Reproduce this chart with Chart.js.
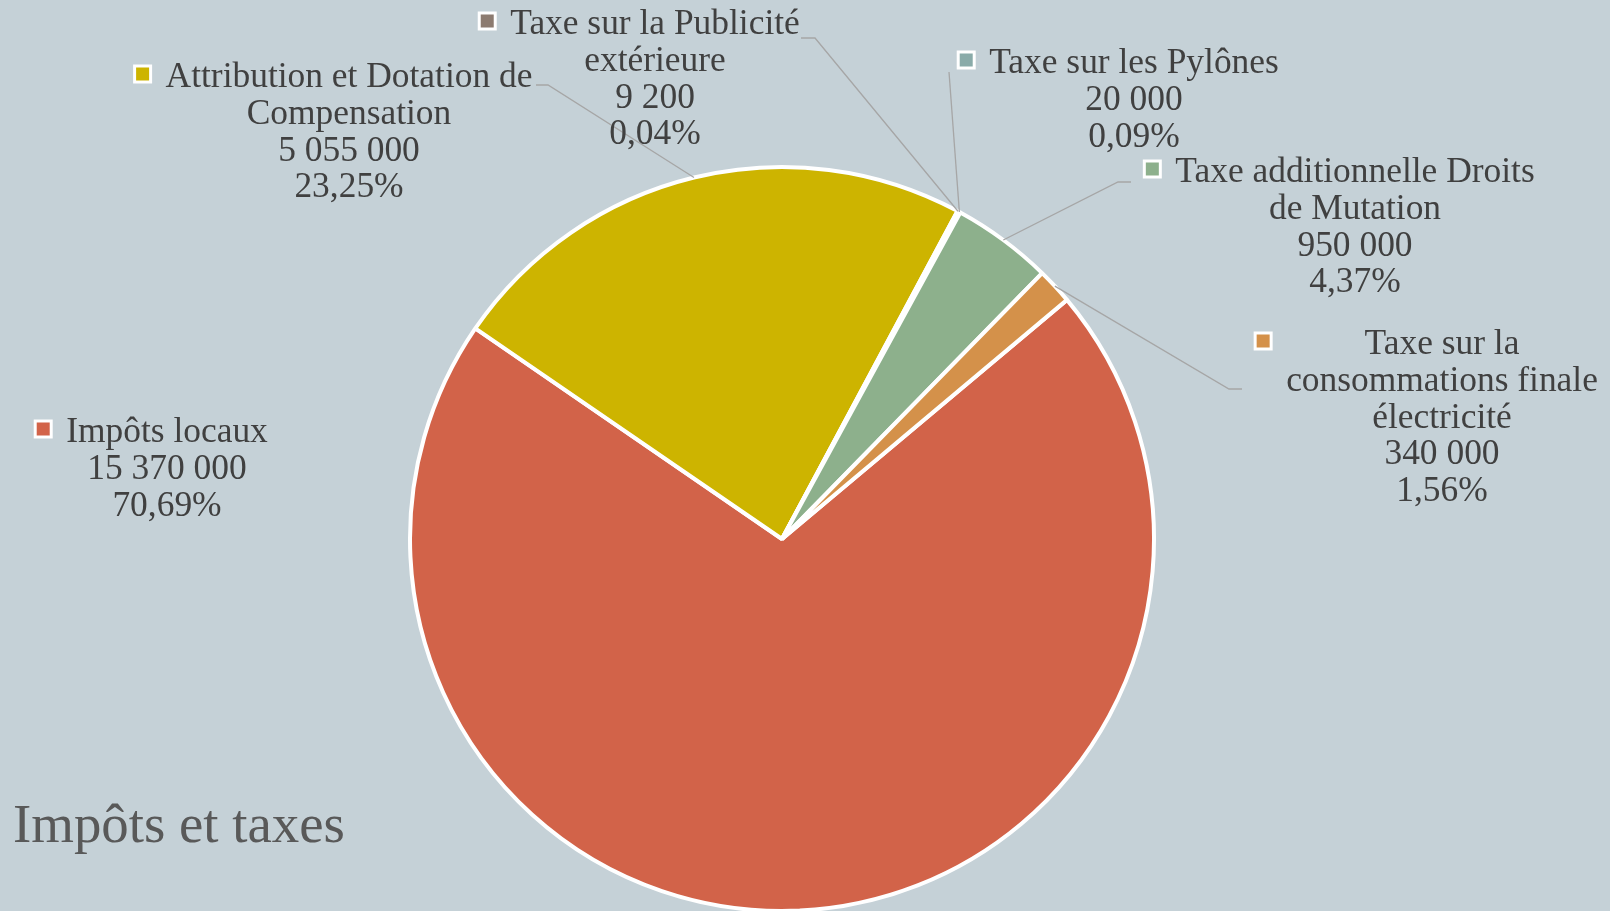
<!DOCTYPE html>
<html>
<head>
<meta charset="utf-8">
<script src="https://cdn.jsdelivr.net/npm/chart.js@4/dist/chart.umd.min.js"></script>
<style>
html,body{margin:0;padding:0;background:#C5D1D7;overflow:hidden}
#wrap{width:1610px;height:911px;position:relative}
canvas{display:block}
</style>
</head>
<body>
<div id="wrap"><canvas id="c" width="1610" height="911"></canvas></div>
<script>
// ---- data ----
const chartTitle = 'Impôts et taxes';
const categories = [
  ['Impôts locaux'],
  ['Attribution et Dotation de', 'Compensation'],
  ['Taxe sur la Publicité', 'extérieure'],
  ['Taxe sur les Pylônes'],
  ['Taxe additionnelle Droits', 'de Mutation'],
  ['Taxe sur la', 'consommations finale', 'électricité']
];
const values = [15370000, 5055000, 9200, 20000, 950000, 340000];

// ---- style / layout ----
const colors = ['#D26349', '#CDB400', '#8C7B70', '#8AABA9', '#8DB08C', '#D4914A'];
const labelCenterX = [167, 349, 655, 1134, 1355, 1442];
const labelTopY = [430, 75, 22, 61, 170, 342];
const leaderElbow = [null, [548, 85], [815, 38], [949, 72], [1118, 182], [1229, 389]];
const leaderEnd = [null, [536, 85], [801, 38], [949, 72], [1131, 182], [1242, 389]];

const FONT = '"Liberation Serif", "Times New Roman", serif';
const total = values.reduce((a, b) => a + b, 0);
const fmtNum = v => String(v).replace(/\B(?=(\d{3})+(?!\d))/g, ' ');
const fmtPct = v => (v / total * 100).toFixed(2).replace('.', ',') + '%';

const labelsPlugin = {
  id: 'pieLabels',
  afterDraw(chart) {
    const ctx = chart.ctx;
    const meta = chart.getDatasetMeta(0);
    ctx.save();
    // fit font sizes
    ctx.font = '100px ' + FONT;
    const fs = 100 * 367 / ctx.measureText('Attribution et Dotation de').width;
    const tfs = 100 * 332 / ctx.measureText(chartTitle).width;
    const lh = 36.7;

    // leader lines
    ctx.strokeStyle = '#A6A6A6';
    ctx.lineWidth = 1.3;
    meta.data.forEach((arc, i) => {
      if (!leaderEnd[i]) return;
      const p = arc.getProps(['x', 'y', 'startAngle', 'endAngle', 'outerRadius'], true);
      const mid = (p.startAngle + p.endAngle) / 2;
      const sx = p.x + p.outerRadius * Math.cos(mid);
      const sy = p.y + p.outerRadius * Math.sin(mid);
      ctx.beginPath();
      ctx.moveTo(sx, sy);
      ctx.lineTo(leaderElbow[i][0], leaderElbow[i][1]);
      ctx.lineTo(leaderEnd[i][0], leaderEnd[i][1]);
      ctx.stroke();
    });

    // labels
    ctx.font = fs + 'px ' + FONT;
    ctx.textAlign = 'center';
    ctx.textBaseline = 'middle';
    values.forEach((v, i) => {
      const lines = categories[i].concat([fmtNum(v), fmtPct(v)]);
      const cx = labelCenterX[i], y0 = labelTopY[i];
      let maxW = 0;
      lines.forEach(l => { maxW = Math.max(maxW, ctx.measureText(l).width); });
      ctx.fillStyle = '#404040';
      lines.forEach((l, j) => ctx.fillText(l, cx, y0 + 3 + j * lh));
      const mx = cx - maxW / 2 - 23, my = y0 - 1;
      ctx.fillStyle = '#FFFFFF';
      ctx.fillRect(mx - 9.5, my - 9.5, 19, 19);
      ctx.fillStyle = colors[i];
      ctx.fillRect(mx - 6.5, my - 6.5, 13, 13);
    });

    // title
    ctx.font = tfs + 'px ' + FONT;
    ctx.textAlign = 'left';
    ctx.textBaseline = 'alphabetic';
    ctx.fillStyle = '#595959';
    ctx.fillText(chartTitle, 13, 842);
    ctx.restore();
  }
};

new Chart(document.getElementById('c'), {
  type: 'pie',
  data: {
    labels: categories.map(c => c.join(' ')),
    datasets: [{
      data: values,
      backgroundColor: colors,
      borderColor: '#FFFFFF',
      borderWidth: 4
    }]
  },
  options: {
    responsive: false,
    devicePixelRatio: 1,
    animation: false,
    rotation: 50,
    radius: 372,
    layout: { padding: { left: 410, right: 456, top: 167, bottom: 0 } },
    plugins: {
      legend: { display: false },
      tooltip: { enabled: false },
      title: { display: false }
    }
  },
  plugins: [labelsPlugin]
});
</script>
</body>
</html>
